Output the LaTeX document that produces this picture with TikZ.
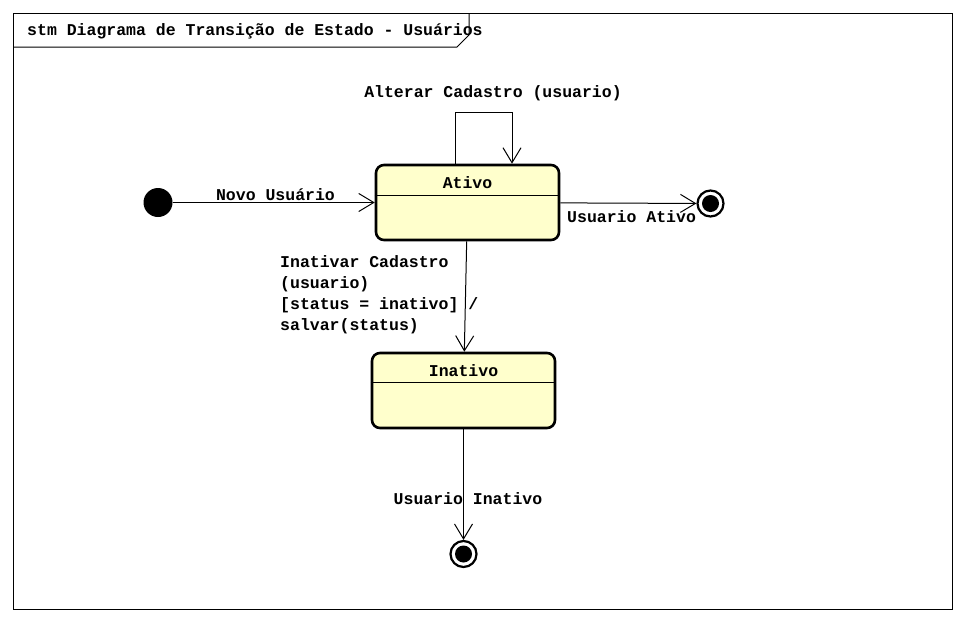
\documentclass[tikz,border=0pt]{standalone}
\usepackage{fontspec}
\setmonofont{Liberation Mono}
\definecolor{statefill}{RGB}{255, 255, 204}
\usetikzlibrary{
  arrows.meta,
  calc,
  positioning,
}
\tikzset{
  >={Straight Barb[length=15pt, width=18pt]},
}

\begin{document}
\begin{tikzpicture}[x=1pt, y=-1pt,
    every node/.style={font=\ttfamily\bfseries\fontsize{16.5}{21}\selectfont},
    state/.style={draw, line width=2.6pt, rounded corners=8pt, fill=statefill,
                  minimum width=183pt, minimum height=75pt, inner sep=0pt},
    startdot/.style={circle, fill, minimum size=29pt, inner sep=0pt},
    endstate/.style={circle, draw, fill=white, line width=2.2pt,
                     minimum size=26pt, inner sep=0pt},
    trans/.style={->, line width=1pt},
    lbl/.style={inner sep=0pt}]
  \useasboundingbox (0,0) rectangle (965,622);
  % frame and title tab
  \draw [line width=1pt] (13,13) rectangle (952,609);
  \draw [line width=1pt] (13,47) -- (457,47) -- (469,35) -- (469,13);
  \node [lbl, anchor=west] (title) at (27,31.5)
        {stm Diagrama de Transição de Estado - Usuários};
  % states
  \node [startdot] (start) at (158,202.5) {};
  \node [state] (ativo) at (467.5,202.5) {};
  \node [state] (inativo) at (463.5,390.5) {};
  \node [endstate] (fimativo) at (710.5,203.5) {};
  \node [endstate] (fiminativo) at (463.5,554) {};
  \fill (fimativo) circle (8.5pt);
  \fill (fiminativo) circle (8.5pt);
  \node [lbl] (ativoname) at ($(ativo.north)+(0,18.5)$) {Ativo};
  \node [lbl] (inativoname) at ($(inativo.north)+(0,18.5)$) {Inativo};
  \draw [line width=1pt] ($(ativo.north west)+(0,32)$) -- ($(ativo.north east)+(0,32)$);
  \draw [line width=1pt] ($(inativo.north west)+(0,31)$) -- ($(inativo.north east)+(0,31)$);
  % transitions
  \draw [trans] (start) -- (ativo);
  \draw [trans] ([xshift=-12.5pt]ativo.north) -- ++(0,-51) -| ([xshift=44.5pt]ativo.north);
  \draw [trans] (ativo) -- (fimativo);
  \draw [trans] (ativo) -- (inativo);
  \draw [trans] (inativo) -- (fiminativo);
  % labels
  \node [lbl] (novo) at (275.5,195) {Novo Usuário};
  \node [lbl] (alterar) at (493,93.5) {Alterar Cadastro (usuario)};
  \node [lbl, anchor=west] (usuativo) at (567,216.5) {Usuario Ativo};
  \node [lbl, anchor=north west, align=left] (inativar) at (280,255)
        {Inativar Cadastro\\(usuario)\\{[}status = inativo{]} /\\salvar(status)};
  \node [lbl] (usuinativo) at (468,499) {Usuario Inativo};
\end{tikzpicture}
\end{document}
